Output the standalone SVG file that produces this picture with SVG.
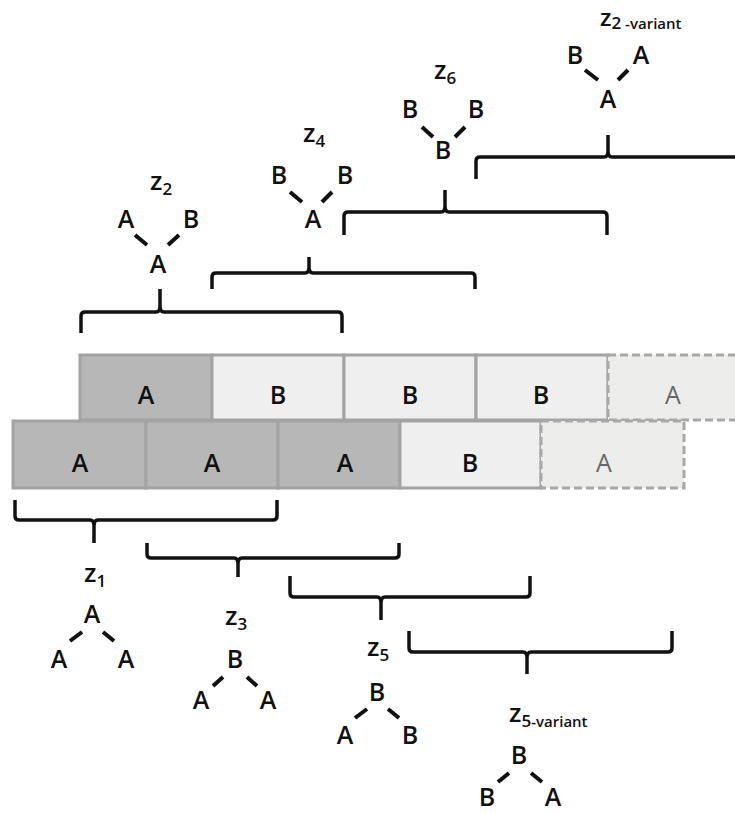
<svg xmlns="http://www.w3.org/2000/svg" width="735" height="814" viewBox="0 0 735 814">
<defs>
<filter id="grain" x="0" y="0" width="100%" height="100%">
<feTurbulence type="fractalNoise" baseFrequency="0.9" numOctaves="2" seed="3" result="n"/>
<feColorMatrix in="n" type="matrix" values="0 0 0 0 0.86  0 0 0 0 0.86  0 0 0 0 0.84  0 0 0 -0.9 0.9" result="c"/>
<feComposite in="c" in2="SourceGraphic" operator="in"/>
</filter>
</defs>
<style>
.dk{fill:#b7b7b7;stroke:#a3a3a3;stroke-width:3}
.lt{fill:#efefef;stroke:#a3a3a3;stroke-width:3}
.ds{fill:#ececea;stroke:#a8a8a8;stroke-width:3;stroke-dasharray:8 4}
.bx{font-family:"Open Sans","Liberation Sans",sans-serif;font-size:25px;font-weight:600;fill:#111;text-anchor:middle}
.bxg{font-family:"Open Sans","Liberation Sans",sans-serif;font-size:25px;font-weight:400;fill:#666;text-anchor:middle}
.t{font-family:"Open Sans","Liberation Sans",sans-serif;font-size:25px;font-weight:600;fill:#111;text-anchor:middle}
.z{font-family:"Open Sans","Liberation Sans",sans-serif;font-size:26px;font-weight:600;fill:#111}
.s{font-size:17px}
.sv{font-size:15px}
.e{stroke:#111;stroke-width:4;stroke-linecap:butt}
.br{fill:none;stroke:#111;stroke-width:3.5;stroke-linejoin:round}
</style>
<rect width="735" height="814" fill="#fff"/>

<g id="row-top">
<rect class="dk" x="80" y="355" width="132" height="65"/>
<rect class="lt" x="212" y="355" width="132" height="65"/>
<rect class="lt" x="344" y="355" width="132" height="65"/>
<rect class="lt" x="476" y="355" width="132" height="65"/>
<rect class="ds" x="608" y="355" width="140" height="65"/>
<rect x="610" y="357" width="130" height="61" fill="#fff" filter="url(#grain)" opacity="0.7"/>
<text class="bx" x="146" y="404">A</text>
<text class="bx" x="278" y="404">B</text>
<text class="bx" x="410" y="404">B</text>
<text class="bx" x="541" y="404">B</text>
<text class="bxg" x="673" y="404">A</text>
</g>

<g id="row-bottom">
<rect class="dk" x="13" y="421" width="133" height="67"/>
<rect class="dk" x="146" y="421" width="132" height="67"/>
<rect class="dk" x="278" y="421" width="122" height="67"/>
<rect class="lt" x="400" y="421" width="141" height="67"/>
<rect class="ds" x="541" y="421" width="143" height="67"/>
<rect x="543" y="423" width="139" height="63" fill="#fff" filter="url(#grain)" opacity="0.7"/>
<text class="bx" x="80" y="472">A</text>
<text class="bx" x="212" y="472">A</text>
<text class="bx" x="345" y="472">A</text>
<text class="bx" x="470" y="472">B</text>
<text class="bxg" x="604" y="472">A</text>
</g>

<g id="connectors">
<path class="br" d="M81,333 V316 Q81,312 85,312 H156 Q160,312 160,306 V289 M160,306 Q160,312 164,312 H338 Q342,312 342,316 V333"/>
<path class="br" d="M212,289 V277 Q212,273 216,273 H305 Q309,273 309,267 V257 M309,267 Q309,273 313,273 H471 Q475,273 475,277 V289"/>
<path class="br" d="M344,235 V216 Q344,212 348,212 H441 Q445,212 445,206 V190 M445,206 Q445,212 449,212 H603 Q607,212 607,216 V235"/>
<path class="br" d="M476,179 V161 Q476,157 480,157 H604 Q608,157 608,151 V135 M608,151 Q608,157 612,157 H740"/>
<path class="br" d="M15,500 V516 Q15,520 19,520 H90 Q94,520 94,526 V543 M94,526 Q94,520 98,520 H273 Q277,520 277,516 V500"/>
<path class="br" d="M147,543 V554 Q147,558 151,558 H234 Q238,558 238,564 V577 M238,564 Q238,558 242,558 H395 Q399,558 399,554 V543"/>
<path class="br" d="M290,576 V593 Q290,597 294,597 H377 Q381,597 381,603 V620 M381,603 Q381,597 385,597 H526 Q530,597 530,593 V576"/>
<path class="br" d="M409,631 V648 Q409,652 413,652 H523 Q527,652 527,658 V674 M527,658 Q527,652 531,652 H668 Q672,652 672,648 V631"/>
</g>

<g id="z2">
<text class="z" x="150" y="190">z<tspan class="s" dy="5">2</tspan></text>
<text class="t" x="126" y="228">A</text>
<text class="t" x="191" y="228">B</text>
<text class="t" x="158" y="273">A</text>
<line class="e" x1="135" y1="235" x2="147" y2="245"/>
<line class="e" x1="179" y1="235" x2="168" y2="245"/>
</g>

<g id="z4">
<text class="z" x="303" y="142">z<tspan class="s" dy="5">4</tspan></text>
<text class="t" x="279" y="184">B</text>
<text class="t" x="345" y="184">B</text>
<text class="t" x="313" y="228">A</text>
<line class="e" x1="290" y1="192" x2="302" y2="202"/>
<line class="e" x1="332" y1="192" x2="322" y2="202"/>
</g>

<g id="z6">
<text class="z" x="434" y="79">z<tspan class="s" dy="5">6</tspan></text>
<text class="t" x="410" y="118">B</text>
<text class="t" x="476" y="118">B</text>
<text class="t" x="443" y="159">B</text>
<line class="e" x1="422" y1="127" x2="433" y2="137"/>
<line class="e" x1="465" y1="127" x2="455" y2="137"/>
</g>

<g id="z2-variant">
<text class="z" x="600" y="26" style="font-size:24px">z<tspan class="s" dy="3">2</tspan><tspan class="sv"> -variant</tspan></text>
<text class="t" x="575" y="64">B</text>
<text class="t" x="641" y="64">A</text>
<text class="t" x="608" y="108">A</text>
<line class="e" x1="585" y1="70" x2="598" y2="80"/>
<line class="e" x1="628" y1="70" x2="618" y2="80"/>
</g>

<g id="z1">
<text class="z" x="84" y="582">z<tspan class="s" dy="5">1</tspan></text>
<text class="t" x="92" y="623">A</text>
<text class="t" x="59" y="668">A</text>
<text class="t" x="126" y="668">A</text>
<line class="e" x1="70" y1="641" x2="82" y2="632"/>
<line class="e" x1="103" y1="632" x2="114" y2="641"/>
</g>

<g id="z3">
<text class="z" x="225" y="625">z<tspan class="s" dy="5">3</tspan></text>
<text class="t" x="235" y="668">B</text>
<text class="t" x="201" y="709">A</text>
<text class="t" x="268" y="709">A</text>
<line class="e" x1="213" y1="686" x2="223" y2="677"/>
<line class="e" x1="247" y1="677" x2="257" y2="686"/>
</g>

<g id="z5">
<text class="z" x="367" y="656">z<tspan class="s" dy="5">5</tspan></text>
<text class="t" x="377" y="701">B</text>
<text class="t" x="345" y="744">A</text>
<text class="t" x="410" y="744">B</text>
<line class="e" x1="355" y1="718" x2="367" y2="709"/>
<line class="e" x1="388" y1="709" x2="399" y2="718"/>
</g>

<g id="z5-variant">
<text class="z" x="509" y="722">z<tspan class="s" dy="5">5</tspan><tspan class="sv">-variant</tspan></text>
<text class="t" x="519" y="764">B</text>
<text class="t" x="487" y="806">B</text>
<text class="t" x="553" y="806">A</text>
<line class="e" x1="498" y1="782" x2="509" y2="773"/>
<line class="e" x1="531" y1="773" x2="542" y2="782"/>
</g>
</svg>
